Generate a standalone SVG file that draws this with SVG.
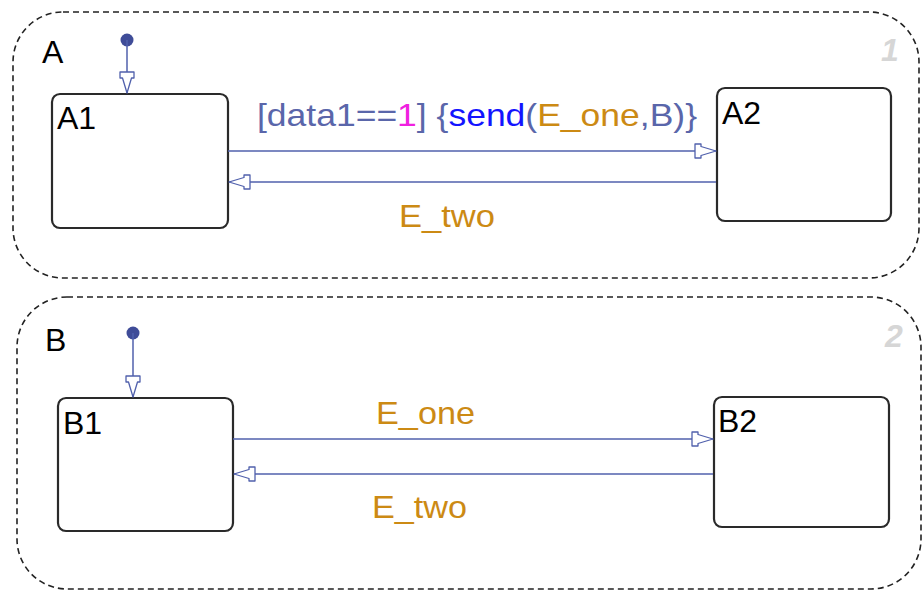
<svg xmlns="http://www.w3.org/2000/svg" width="924" height="591" viewBox="0 0 924 591">
<defs>
<style>
.outer{fill:none;stroke:#222;stroke-width:1.6;stroke-dasharray:6 4}
.state{fill:#fff;stroke:#2a2a2a;stroke-width:2.2}
.name{font-family:"Liberation Sans",Arial,sans-serif;font-size:32px;fill:#000}
.order{font-family:"Liberation Sans",Arial,sans-serif;font-size:32px;font-weight:bold;font-style:italic;fill:#d6d6d6}
.conn{fill:none;stroke:#5060ac;stroke-width:1.5}
.lbl{font-family:"Liberation Sans",Arial,sans-serif;font-size:32px}
.sl{fill:#5a66aa}
.mg{fill:#f020e0}
.bl{fill:#1414ff}
.or{fill:#cc8a14}
.dot{fill:#3f4c98}
</style>
<marker id="arr" viewBox="-23 -9 24 18" refX="0" refY="0" markerWidth="24" markerHeight="18" markerUnits="userSpaceOnUse" orient="auto">
<path d="M-21,-7 L-15,-7 L-15,-4.5 L0,0 L-15,4.5 L-15,7 L-21,7 Z" fill="#fff" stroke="#5060ac" stroke-width="1.3" stroke-linejoin="round"/>
</marker>
</defs>

<g id="A">
<rect class="outer" x="13" y="12" width="906" height="266" rx="50"/>
<text class="name" x="42" y="63">A</text>
<text class="order" x="881" y="61">1</text>
</g>
<g id="A1">
<rect class="state" x="52" y="94" width="176" height="134" rx="8"/>
<text class="name" x="57" y="129">A1</text>
</g>
<g id="A2">
<rect class="state" x="717" y="88" width="174" height="133" rx="8"/>
<text class="name" x="722" y="124">A2</text>
</g>

<g id="B">
<rect class="outer" x="17" y="297" width="904" height="292" rx="50"/>
<text class="name" x="45" y="351">B</text>
<text class="order" x="885" y="347">2</text>
</g>
<g id="B1">
<rect class="state" x="58" y="398" width="175" height="133" rx="8"/>
<text class="name" x="63" y="434">B1</text>
</g>
<g id="B2">
<rect class="state" x="714" y="397" width="175" height="130" rx="8"/>
<text class="name" x="718" y="432">B2</text>
</g>

<g id="connectors">
<circle class="dot" cx="127" cy="40" r="6.5"/>
<line class="conn" x1="127" y1="40" x2="127" y2="93" marker-end="url(#arr)"/>
<line class="conn" x1="228" y1="151" x2="716" y2="151" marker-end="url(#arr)"/>
<line class="conn" x1="716" y1="182" x2="229" y2="182" marker-end="url(#arr)"/>
<text class="lbl" x="257" y="126" textLength="440" lengthAdjust="spacingAndGlyphs"><tspan class="sl">[data1==</tspan><tspan class="mg">1</tspan><tspan class="sl">] {</tspan><tspan class="bl">send</tspan><tspan class="sl">(</tspan><tspan class="or">E_one</tspan><tspan class="sl">,B)}</tspan></text>
<text class="lbl or" x="399" y="227" textLength="96" lengthAdjust="spacingAndGlyphs">E_two</text>

<circle class="dot" cx="133" cy="333" r="6.5"/>
<line class="conn" x1="133" y1="333" x2="133" y2="397" marker-end="url(#arr)"/>
<line class="conn" x1="233" y1="439" x2="713" y2="439" marker-end="url(#arr)"/>
<line class="conn" x1="713" y1="474" x2="234" y2="474" marker-end="url(#arr)"/>
<text class="lbl or" x="376" y="424" textLength="99" lengthAdjust="spacingAndGlyphs">E_one</text>
<text class="lbl or" x="372" y="518" textLength="95" lengthAdjust="spacingAndGlyphs">E_two</text>
</g>
</svg>
